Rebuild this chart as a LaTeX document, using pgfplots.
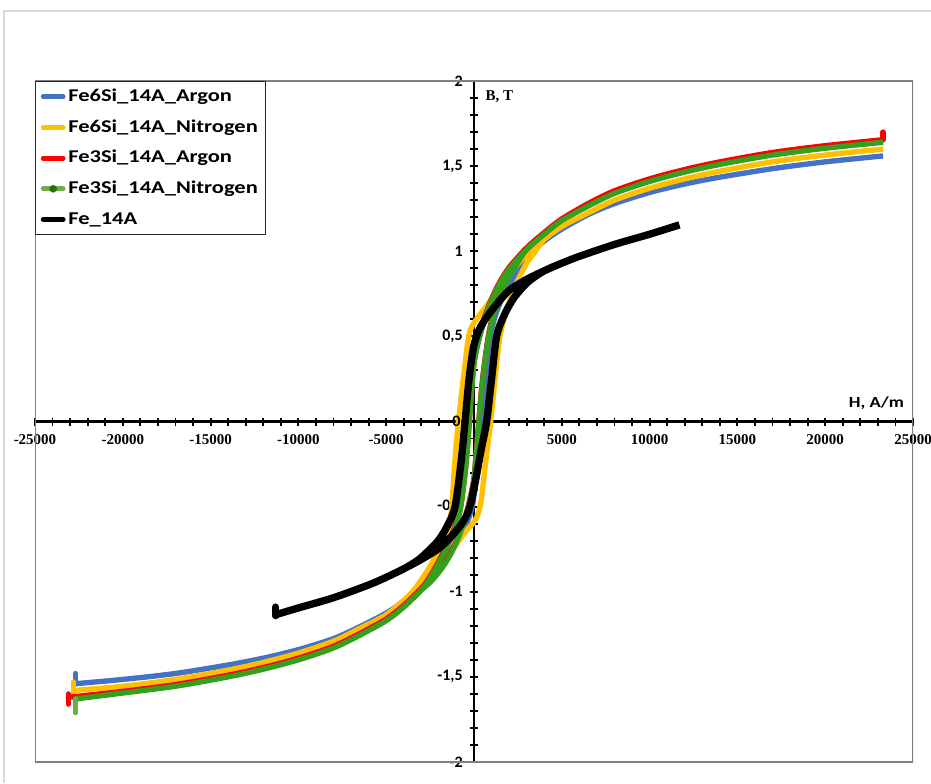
\documentclass[border=0pt]{standalone}
\usepackage{pgfplots}
\pgfplotsset{compat=1.18}
\usepackage{fontspec}
\setmainfont{Liberation Serif}
\newfontfamily\legfont[FakeStretch=1.25]{Carlito}
\newfontfamily\hfont[FakeStretch=1.2]{Carlito}
\newfontfamily\calnorm{Carlito}
\definecolor{cblue}{HTML}{4472C4}
\definecolor{cyellow}{HTML}{FFC000}
\definecolor{cred}{HTML}{FF0000}
\definecolor{cgreen}{HTML}{34A01E}
\definecolor{lgreen}{HTML}{70AD47}
\definecolor{framegray}{HTML}{808080}
\definecolor{outergray}{HTML}{D9D9D9}
\begin{document}
\begin{tikzpicture}
\draw[outergray, line width=0.9pt] (3pt,0pt) -- (3pt,579pt) -- (698.25pt,579pt);
\begin{axis}[
  at={(26.25pt,15.75pt)}, anchor=south west,
  scale only axis, width=658.5pt, height=510.75pt,
  xmin=-25000, xmax=25000, ymin=-2, ymax=2,
  axis lines=center,
  axis line style={-, line width=2pt, black},
  hide obscured x ticks=false, hide obscured y ticks=false,
  scaled x ticks=false, scaled y ticks=false,
  xtick={-25000,-20000,-15000,-10000,-5000,0,5000,10000,15000,20000,25000},
  xticklabels={-25000,-20000,-15000,-10000,-5000,,5000,10000,15000,20000,25000},
  ytick={-2,-1.5,-1,-0.5,0,0.5,1,1.5,2},
  yticklabels={-2,{-1,5},-1,{-0,5},,{0,5},1,{1,5},2},
  minor x tick num=4, minor y tick num=4,
  tick align=center, major tick length=6pt, minor tick length=6pt,
  every tick/.style={black, line width=1.4pt},
  xticklabel style={font=\bfseries\fontsize{11.25}{13}\selectfont, yshift=-3pt},
  yticklabel style={font=\calnorm\bfseries\fontsize{12}{14}\selectfont, xshift=-2pt},
  line join=round,
  legend style={at={(0,1)}, anchor=north west, draw=black!85, line width=0.7pt,
    font=\legfont\bfseries\fontsize{13.5}{16}\selectfont,
    inner xsep=4pt, inner ysep=3pt, row sep=6pt,
    nodes={inner sep=2pt, text height=10pt, text depth=3pt}},
  legend cell align=left,
]
\draw[framegray, line width=1pt] (rel axis cs:0,0) rectangle (rel axis cs:1,1);

% Fe6Si_14A_Argon
\addplot[cblue, line width=4pt, smooth, tension=0.5,
  legend image code/.code={\draw[cblue, line width=3.6pt, line cap=round] (0pt,0pt) -- (15pt,0pt);}]
coordinates {
(23300,1.56)(20000,1.525)(17000,1.485)(14000,1.435)(12000,1.395)(10000,1.345)(8000,1.28)(6500,1.215)(5000,1.13)(4000,1.06)(3000,0.975)
(2500,0.925)(2000,0.865)(1500,0.79)(1000,0.69)(500,0.56)(200,0.45)(0,0.35)(-150,0.2)(-300,0.02)(-500,-0.25)(-800,-0.50)(-1100,-0.62)(-1500,-0.72)(-2000,-0.81)(-2500,-0.89)
(-3000,-0.96)(-4000,-1.055)(-5000,-1.125)(-6500,-1.205)(-8000,-1.275)(-10000,-1.34)(-12000,-1.39)(-14000,-1.43)(-17000,-1.48)(-20000,-1.515)(-22700,-1.54)
(-20000,-1.515)(-17000,-1.48)(-14000,-1.43)(-12000,-1.39)(-10000,-1.34)(-8000,-1.275)(-6500,-1.205)(-5000,-1.125)(-4000,-1.055)(-3000,-0.96)
(-2500,-0.92)(-2000,-0.86)(-1500,-0.79)(-1000,-0.71)(-500,-0.62)(-100,-0.50)(100,-0.35)(300,-0.15)(450,0.0)(650,0.25)(900,0.48)(1150,0.60)(1500,0.70)(2000,0.80)(2500,0.89)
(3000,0.975)(4000,1.06)(5000,1.13)(6500,1.215)(8000,1.28)(10000,1.345)(12000,1.395)(14000,1.435)(17000,1.485)(20000,1.525)(23300,1.56)
};
\addlegendentry{Fe6Si\_14A\_Argon}
\addplot[cblue, line width=4pt, line cap=round, forget plot] coordinates {(-22700,-1.54)(-22700,-1.48)};

% Fe6Si_14A_Nitrogen
\addplot[cyellow, line width=4pt, smooth, tension=0.5,
  legend image code/.code={\draw[cyellow, line width=3.6pt, line cap=round] (0pt,0pt) -- (15pt,0pt);}]
coordinates {
(23300,1.60)(20000,1.565)(17000,1.525)(14000,1.47)(12000,1.425)(10000,1.37)(8000,1.30)(6500,1.225)(5000,1.145)(4000,1.07)
(3000,0.98)(2000,0.87)(1500,0.80)(1000,0.72)(500,0.65)(0,0.58)(-200,0.54)(-340,0.48)(-550,0.30)(-890,0.0)(-1100,-0.25)(-1270,-0.50)(-1500,-0.64)(-2000,-0.75)(-2500,-0.85)(-3000,-0.93)(-3500,-1.0)
(-4000,-1.05)(-5000,-1.135)(-6500,-1.215)(-8000,-1.29)(-10000,-1.36)(-12000,-1.415)(-14000,-1.46)(-17000,-1.515)(-20000,-1.555)(-22800,-1.58)
(-20000,-1.555)(-17000,-1.515)(-14000,-1.46)(-12000,-1.415)(-10000,-1.36)(-8000,-1.29)(-6500,-1.215)(-5000,-1.135)(-4000,-1.05)
(-3000,-0.96)(-2000,-0.86)(-1500,-0.79)(-1000,-0.72)(-500,-0.65)(0,-0.59)(200,-0.55)(400,-0.47)(650,-0.25)(950,0.0)(1200,0.25)(1450,0.48)(1700,0.60)(2000,0.70)(2500,0.83)(3000,0.93)(3500,1.00)
(4000,1.07)(5000,1.145)(6500,1.225)(8000,1.30)(10000,1.37)(12000,1.425)(14000,1.47)(17000,1.525)(20000,1.565)(23300,1.60)
};
\addlegendentry{Fe6Si\_14A\_Nitrogen}
\addplot[cyellow, line width=4pt, line cap=round, forget plot] coordinates {(-22800,-1.53)(-22800,-1.62)};

% Fe3Si_14A_Argon
\addplot[cred, line width=4pt, smooth, tension=0.5,
  legend image code/.code={\draw[cred, line width=3.6pt, line cap=round] (0pt,0pt) -- (15pt,0pt);}]
coordinates {
(23300,1.655)(20000,1.62)(17000,1.58)(14000,1.525)(12000,1.48)(10000,1.425)(8000,1.355)(6500,1.28)(5000,1.19)(4000,1.11)(3000,1.02)
(2500,0.965)(2000,0.905)(1500,0.825)(1000,0.72)(500,0.58)(200,0.46)(0,0.35)(-120,0.21)(-250,0.03)(-450,-0.24)(-750,-0.49)(-1000,-0.59)(-1500,-0.72)(-2000,-0.82)(-2500,-0.91)
(-3000,-0.98)(-4000,-1.08)(-5000,-1.16)(-6500,-1.245)(-8000,-1.32)(-10000,-1.39)(-12000,-1.445)(-14000,-1.49)(-17000,-1.545)(-20000,-1.585)(-23100,-1.62)
(-20000,-1.585)(-17000,-1.545)(-14000,-1.49)(-12000,-1.445)(-10000,-1.39)(-8000,-1.32)(-6500,-1.245)(-5000,-1.16)(-4000,-1.08)(-3000,-0.98)
(-2500,-0.935)(-2000,-0.875)(-1500,-0.80)(-1000,-0.70)(-500,-0.56)(-200,-0.44)(0,-0.33)(120,-0.19)(280,0.01)(500,0.26)(800,0.49)(1050,0.61)(1500,0.75)(2000,0.86)(2500,0.945)
(3000,1.02)(4000,1.11)(5000,1.19)(6500,1.28)(8000,1.355)(10000,1.425)(12000,1.48)(14000,1.525)(17000,1.58)(20000,1.62)(23300,1.655)
};
\addlegendentry{Fe3Si\_14A\_Argon}
\addplot[cred, line width=4pt, line cap=round, forget plot] coordinates {(23300,1.655)(23300,1.70)};
\addplot[cred, line width=4pt, line cap=round, forget plot] coordinates {(-23100,-1.60)(-23100,-1.66)};

% Fe3Si_14A_Nitrogen
\addplot[cgreen, line width=4pt, smooth, tension=0.5,
  legend image code/.code={\draw[lgreen, line width=3.6pt, line cap=round] (0pt,0pt) -- (15pt,0pt); \fill[cgreen!70!black] (7.5pt,0pt) circle (0.9pt);}]
coordinates {
(23300,1.64)(20000,1.605)(17000,1.565)(14000,1.51)(12000,1.465)(10000,1.41)(8000,1.34)(6500,1.265)(5000,1.18)(4000,1.10)(3000,1.01)
(2500,0.955)(2000,0.895)(1500,0.815)(1000,0.71)(500,0.57)(200,0.45)(0,0.34)(-120,0.2)(-250,0.02)(-450,-0.25)(-750,-0.50)(-1000,-0.60)(-1500,-0.73)(-2000,-0.83)(-2500,-0.92)
(-3000,-0.99)(-4000,-1.09)(-5000,-1.17)(-6500,-1.255)(-8000,-1.33)(-10000,-1.40)(-12000,-1.455)(-14000,-1.50)(-17000,-1.555)(-20000,-1.595)(-22700,-1.63)
(-20000,-1.595)(-17000,-1.555)(-14000,-1.50)(-12000,-1.455)(-10000,-1.40)(-8000,-1.33)(-6500,-1.255)(-5000,-1.17)(-4000,-1.09)(-3000,-0.99)
(-2500,-0.945)(-2000,-0.885)(-1500,-0.81)(-1000,-0.71)(-500,-0.57)(-200,-0.45)(0,-0.34)(120,-0.2)(280,0.0)(500,0.25)(800,0.48)(1050,0.60)(1500,0.74)(2000,0.85)(2500,0.935)
(3000,1.01)(4000,1.10)(5000,1.18)(6500,1.265)(8000,1.34)(10000,1.41)(12000,1.465)(14000,1.51)(17000,1.565)(20000,1.605)(23300,1.64)
};
\addlegendentry{Fe3Si\_14A\_Nitrogen}
\addplot[lgreen, line width=4pt, line cap=round, forget plot] coordinates {(-22700,-1.63)(-22700,-1.71)};

% Fe_14A
\addplot[black, line width=5.5pt, smooth, tension=0.5,
  legend image code/.code={\draw[black, line width=3.6pt, line cap=round] (0pt,0pt) -- (15pt,0pt);}]
coordinates {
(11700,1.155)(10000,1.10)(8000,1.04)(6000,0.97)(5000,0.93)(4000,0.885)
(3000,0.835)(2000,0.77)(1300,0.69)(700,0.61)(300,0.54)(0,0.45)(-200,0.32)(-350,0.18)(-510,0.0)(-750,-0.25)(-1080,-0.50)(-1500,-0.61)(-2000,-0.695)(-2600,-0.76)(-3200,-0.815)
(-4000,-0.865)(-5000,-0.915)(-6000,-0.96)(-8000,-1.035)(-10000,-1.095)(-11300,-1.135)
(-10000,-1.095)(-8000,-1.035)(-6000,-0.96)(-5000,-0.915)(-4000,-0.865)
(-3000,-0.81)(-2000,-0.745)(-1200,-0.665)(-600,-0.585)(-230,-0.50)(100,-0.34)(400,-0.17)(720,0.0)(1000,0.25)(1290,0.50)(1700,0.62)(2200,0.715)(2700,0.78)(3200,0.83)
(4000,0.885)(5000,0.93)(6000,0.97)(8000,1.04)(10000,1.10)(11700,1.155)
};
\addlegendentry{Fe\_14A}
\addplot[black, line width=5.5pt, line cap=round, forget plot] coordinates {(-11300,-1.09)(-11300,-1.14)};

\node[anchor=east, inner sep=0pt, xshift=-10pt, font=\calnorm\bfseries\fontsize{12}{14}\selectfont] at (axis cs:0,0) {0};
\node[anchor=west, inner sep=0pt, font=\bfseries\fontsize{11.25}{13}\selectfont] at (axis cs:650,1.91) {B, T};
\node[anchor=east, inner sep=0pt, font=\hfont\bfseries\fontsize{11.6}{13}\selectfont] at (axis cs:24500,0.11) {H, A/m};
\end{axis}
\pgfresetboundingbox
\useasboundingbox (0,0) rectangle (698.25pt,587.25pt);
\end{tikzpicture}
\end{document}
